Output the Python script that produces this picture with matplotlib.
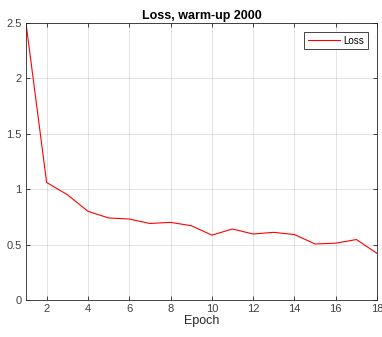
import numpy as np
import matplotlib.pyplot as plt

plt.rcParams.update({
    "font.family": ["Liberation Sans", "DejaVu Sans"],
    "font.size": 8,
    "xtick.direction": "in",
    "ytick.direction": "in",
    "xtick.top": True,
    "ytick.right": True,
    "xtick.major.size": 3,
    "ytick.major.size": 3,
})

epochs = np.arange(1, 19)
loss = [2.50, 1.06, 0.95, 0.80, 0.74, 0.73, 0.69, 0.70, 0.67,
        0.585, 0.64, 0.595, 0.61, 0.59, 0.505, 0.512, 0.545, 0.42]

xticks = np.arange(2, 19, 2)
yticks = [0, 0.5, 1, 1.5, 2, 2.5]

fig = plt.figure(figsize=(3.82, 3.37), dpi=100)
ax = fig.add_axes([0.068, 0.110, 0.919, 0.822])

ax.plot(epochs, loss, color="red", lw=0.8, label="Loss")

ax.set_xlim(1, 18)
ax.set_ylim(0, 2.5)
ax.set_xticks(xticks)
ax.set_yticks(yticks)
ax.set_yticklabels(["0", "0.5", "1", "1.5", "2", "2.5"])
ax.tick_params(colors="#262626", labelcolor="#404040", labelsize=8, width=0.6, pad=3)
ax.grid(True, color="#262626", alpha=0.15, lw=0.6)
for s in ax.spines.values():
    s.set_color("#262626")
    s.set_linewidth(0.6)

ax.set_xlabel("Epoch", fontsize=9, color="#262626", labelpad=1)
ax.set_title("Loss, warm-up 2000", fontsize=9, fontweight="bold", pad=3)

leg = ax.legend(loc="upper right", fontsize=7, fancybox=False, handlelength=3.3,
                borderaxespad=0.9, framealpha=1, handletextpad=0.4, borderpad=0.4)
leg.get_frame().set_edgecolor("#262626")
leg.get_frame().set_linewidth(0.6)

fig.savefig("out.png", dpi=100)
